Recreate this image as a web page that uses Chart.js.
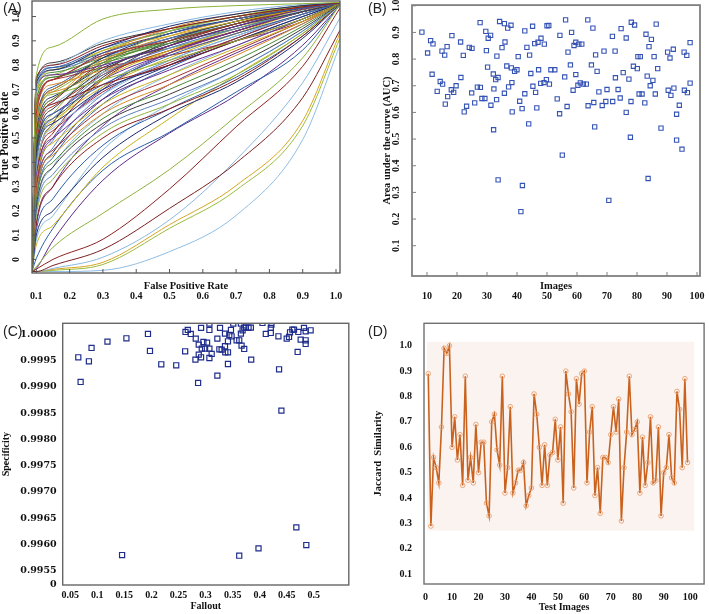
<!DOCTYPE html>
<html><head><meta charset="utf-8">
<script src="https://cdn.jsdelivr.net/npm/chart.js@4.4.1/dist/chart.umd.min.js"></script>
<style>
html,body{margin:0;padding:0;background:#fff;}
body{width:709px;height:614px;position:relative;overflow:hidden;}
canvas{position:absolute;}
.lbl{position:absolute;font-family:'Liberation Sans',Arial,sans-serif;font-size:14px;line-height:14px;color:#222;z-index:2;}
</style></head><body>
<canvas id="cA" width="350" height="305" style="left:0;top:0;width:350px;height:305px"></canvas>
<canvas id="cB" width="328" height="305" style="left:381px;top:0;width:328px;height:305px"></canvas>
<canvas id="cC" width="354" height="314" style="left:0;top:300px;width:354px;height:314px"></canvas>
<canvas id="cD" width="337" height="314" style="left:372px;top:300px;width:337px;height:314px"></canvas>
<div class="lbl" style="left:3px;top:1px">(A)</div>
<div class="lbl" style="left:368px;top:1px">(B)</div>
<div class="lbl" style="left:3px;top:324px">(C)</div>
<div class="lbl" style="left:368px;top:324px">(D)</div>
<script>
// ---------- Panel A: ROC curves (TPR sampled at shared FPR positions) ----------
const rocFpr = [0.087, 0.1, 0.15, 0.3, 0.5, 0.7, 0.9, 1.012];
const rocMain = [
  [-0.05, 0.76, 0.875, 0.99, 1.03, 1.045, 1.053, 1.058],
  [-0.05, 0.75, 0.80, 0.88, 0.95, 1.00, 1.04, 1.056],
  [-0.05, 0.74, 0.79, 0.85, 0.93, 0.99, 1.035, 1.055],
  [-0.05, 0.73, 0.78, 0.87, 0.96, 1.01, 1.045, 1.056],
  [-0.05, 0.70, 0.80, 0.90, 0.97, 1.02, 1.05, 1.056],
  [-0.05, 0.72, 0.76, 0.80, 0.88, 0.96, 1.03, 1.055],
  [-0.05, 0.68, 0.78, 0.86, 0.92, 0.98, 1.03, 1.055],
  [-0.05, 0.60, 0.74, 0.84, 0.90, 0.97, 1.03, 1.055],
  [-0.05, 0.55, 0.70, 0.82, 0.92, 0.99, 1.04, 1.055],
  [-0.05, 0.50, 0.66, 0.80, 0.90, 0.97, 1.03, 1.055],
  [-0.05, 0.45, 0.62, 0.78, 0.88, 0.96, 1.02, 1.055],
  [-0.05, 0.40, 0.58, 0.76, 0.87, 0.95, 1.02, 1.055],
  [-0.05, 0.58, 0.68, 0.74, 0.82, 0.90, 0.99, 1.054],
  [-0.05, 0.52, 0.64, 0.72, 0.80, 0.90, 0.99, 1.054],
  [-0.05, 0.46, 0.60, 0.72, 0.84, 0.93, 1.01, 1.055],
  [-0.05, 0.42, 0.56, 0.70, 0.80, 0.90, 1.00, 1.054],
  [-0.05, 0.38, 0.54, 0.68, 0.82, 0.92, 1.01, 1.055],
  [-0.05, 0.35, 0.50, 0.66, 0.78, 0.88, 0.99, 1.054],
  [-0.05, 0.33, 0.48, 0.64, 0.76, 0.87, 0.98, 1.054],
  [-0.05, 0.30, 0.45, 0.62, 0.74, 0.86, 0.98, 1.054],
  [-0.05, 0.28, 0.43, 0.60, 0.72, 0.84, 0.97, 1.054],
  [-0.05, 0.25, 0.40, 0.58, 0.70, 0.82, 0.96, 1.054],
  [-0.05, 0.22, 0.38, 0.56, 0.68, 0.80, 0.95, 1.053],
  [-0.05, 0.20, 0.35, 0.54, 0.66, 0.78, 0.94, 1.053],
  [-0.05, 0.18, 0.33, 0.52, 0.64, 0.76, 0.93, 1.052],
  [-0.05, 0.15, 0.30, 0.50, 0.62, 0.74, 0.92, 1.052],
  [-0.05, 0.12, 0.25, 0.47, 0.62, 0.75, 0.92, 1.052],
  [-0.05, 0.10, 0.20, 0.42, 0.60, 0.73, 0.91, 1.051],
  [-0.05, 0.08, 0.18, 0.45, 0.64, 0.78, 0.94, 1.053],
  [-0.05, 0.30, 0.50, 0.70, 0.85, 0.94, 1.02, 1.055],
  [-0.05, 0.36, 0.55, 0.74, 0.86, 0.95, 1.03, 1.055],
  [-0.05, 0.48, 0.63, 0.76, 0.86, 0.94, 1.02, 1.055],
  [-0.05, 0.62, 0.72, 0.78, 0.85, 0.93, 1.01, 1.055],
  [-0.05, 0.66, 0.75, 0.82, 0.89, 0.95, 1.02, 1.055],
  [-0.05, 0.44, 0.58, 0.75, 0.90, 0.98, 1.04, 1.056],
  [-0.05, 0.27, 0.46, 0.68, 0.82, 0.92, 1.01, 1.055],
  [-0.05, 0.40, 0.60, 0.80, 0.94, 1.00, 1.045, 1.056],
  [-0.05, 0.32, 0.52, 0.74, 0.88, 0.97, 1.035, 1.056],
  [-0.05, 0.24, 0.42, 0.64, 0.79, 0.90, 1.00, 1.055],
  [-0.05, 0.56, 0.70, 0.83, 0.93, 0.99, 1.04, 1.056],
  [-0.05, 0.20, 0.38, 0.60, 0.76, 0.88, 0.99, 1.054],
  [-0.05, 0.14, 0.30, 0.55, 0.72, 0.85, 0.97, 1.054],
  [-0.05, 0.06, 0.14, 0.38, 0.58, 0.76, 0.93, 1.052],
  [-0.05, 0.64, 0.74, 0.79, 0.84, 0.90, 0.98, 1.054],
  [-0.05, 0.50, 0.66, 0.84, 0.95, 1.01, 1.045, 1.056],
  [-0.05, 0.70, 0.77, 0.83, 0.90, 0.97, 1.03, 1.055],
  [-0.05, 0.74, 0.81, 0.89, 0.95, 1.00, 1.04, 1.056],
  [-0.05, 0.71, 0.78, 0.84, 0.91, 0.97, 1.03, 1.055],
  [-0.05, 0.66, 0.76, 0.86, 0.94, 1.00, 1.045, 1.056],
  [-0.05, 0.62, 0.74, 0.85, 0.93, 0.99, 1.04, 1.056],
  [-0.05, 0.57, 0.71, 0.83, 0.91, 0.98, 1.035, 1.055],
  [-0.05, 0.53, 0.67, 0.79, 0.88, 0.96, 1.03, 1.055],
  [-0.05, 0.49, 0.64, 0.77, 0.87, 0.95, 1.025, 1.055],
  [-0.05, 0.45, 0.60, 0.74, 0.85, 0.94, 1.02, 1.055],
  [-0.05, 0.41, 0.57, 0.71, 0.83, 0.93, 1.02, 1.055],
  [-0.05, 0.37, 0.53, 0.69, 0.81, 0.91, 1.01, 1.054],
  [-0.05, 0.60, 0.69, 0.77, 0.86, 0.94, 1.02, 1.055],
  [-0.05, 0.69, 0.75, 0.81, 0.87, 0.94, 1.02, 1.055],
  [-0.05, 0.34, 0.56, 0.77, 0.89, 0.97, 1.035, 1.056],
  [-0.05, 0.29, 0.49, 0.71, 0.85, 0.94, 1.02, 1.055],
  [-0.05, 0.54, 0.69, 0.81, 0.90, 0.97, 1.03, 1.055],
  [-0.05, 0.47, 0.65, 0.81, 0.91, 0.98, 1.035, 1.056],
  [-0.05, 0.72, 0.79, 0.87, 0.94, 0.99, 1.04, 1.056],
  [-0.05, 0.26, 0.44, 0.66, 0.80, 0.91, 1.01, 1.055]
];
const rocLow = [
  [-0.05, -0.03, 0.05, 0.19, 0.37, 0.59, 0.83, 1.05],
  [-0.05, -0.04, 0.0, 0.083, 0.29, 0.546, 0.795, 1.035],
  [-0.05, -0.05, -0.025, 0.041, 0.21, 0.397, 0.666, 0.944],
  [-0.05, -0.05, -0.037, 0.009, 0.163, 0.41, 0.728, 0.994],
  [-0.05, -0.05, -0.041, -0.012, 0.143, 0.304, 0.571, 0.932],
  [-0.05, -0.05, -0.045, -0.021, 0.128, 0.285, 0.55, 0.911],
  [-0.05, -0.05, -0.05, -0.045, 0.032, 0.181, 0.493, 0.882],
  [-0.05, 0.004, 0.128, 0.367, 0.524, 0.689, 0.862, 1.047],
  [-0.05, -0.037, 0.078, 0.326, 0.52, 0.676, 0.882, 1.047]
];
const rocXTicks = [0.1, 0.2, 0.3, 0.4, 0.5, 0.6, 0.7, 0.8, 0.9, 1.0];
const rocXTickLabels = ['0.1','0.2','0.3','0.4','0.5','0.6','0.7','0.8','0.9','1.0'];
const rocYTicks = [0, 0.1, 0.2, 0.3, 0.4, 0.5, 0.6, 0.7, 0.8, 0.9, 1.0];
const rocYTickLabels = ['0','0.1','0.2','0.3','0.4','0.5','0.6','0.7','0.8','0.9','1.0'];

// ---------- Panel B: AUC per image ----------
const bImage = [
  8.3,10.2,11.2,12.0,11.7,13.4,14.4,15.2,15.0,15.9,
  16.1,16.7,16.9,18.1,18.3,18.9,19.7,21.2,21.3,22.1,
  22.4,23.2,24.1,25.0,24.9,25.9,26.8,27.7,27.8,28.3,
  29.3,29.6,29.8,30.2,30.4,31.2,31.3,32.1,32.3,32.2,
  32.9,33.2,33.3,33.7,33.7,34.2,35.0,35.8,35.8,36.0,
  36.6,36.9,37.2,38.0,38.1,38.3,38.4,39.2,40.0,40.4,
  40.9,41.7,41.8,41.3,42.6,42.6,43.3,43.9,44.2,44.6,
  45.2,45.3,45.9,46.2,46.6,47.0,47.2,47.9,48.0,49.0,
  49.1,49.8,50.0,50.6,50.8,51.3,52.6,53.4,54.2,54.3,
  55.1,55.9,56.2,56.7,57.0,57.8,58.2,58.7,59.0,59.6,
  59.6,60.3,60.6,61.1,61.6,62.1,63.1,63.7,63.6,64.8,
  65.3,65.6,65.9,66.2,66.7,67.3,68.4,69.0,69.6,70.0,
  70.6,71.9,71.8,72.7,72.8,73.7,74.4,74.7,75.4,76.4,
  76.4,77.3,77.8,78.0,78.1,78.8,79.2,80.1,80.3,80.7,
  81.1,81.7,82.6,83.0,83.4,83.7,84.0,84.4,84.8,85.3,
  85.7,86.1,86.4,86.9,88.0,90.2,90.4,91.0,91.3,92.1,
  92.3,93.2,93.2,94.1,95.0,95.7,95.8,96.6,96.8,97.7,
  97.7
];
const bAuc = [
  0.901,0.823,0.869,0.857,0.743,0.679,0.716,0.706,0.830,0.815,
  0.631,0.847,0.659,0.685,0.888,0.675,0.700,0.864,0.731,0.814,
  0.602,0.623,0.844,0.840,0.673,0.636,0.695,0.937,0.694,0.652,
  0.652,0.904,0.832,0.770,0.878,0.889,0.627,0.744,0.688,0.535,
  0.723,0.648,0.811,0.731,0.347,0.941,0.843,0.933,0.672,0.864,
  0.774,0.916,0.696,0.927,0.767,0.712,0.602,0.754,0.760,0.809,
  0.642,0.614,0.326,0.228,0.906,0.670,0.844,0.557,0.815,0.746,
  0.923,0.698,0.858,0.675,0.617,0.863,0.760,0.709,0.878,0.712,
  0.856,0.723,0.925,0.926,0.706,0.760,0.760,0.651,0.595,0.889,
  0.440,0.733,0.947,0.622,0.826,0.778,0.900,0.683,0.851,0.742,
  0.863,0.702,0.856,0.711,0.856,0.706,0.706,0.625,0.947,0.778,
  0.916,0.637,0.546,0.816,0.754,0.677,0.626,0.830,0.641,0.686,
  0.270,0.641,0.885,0.830,0.730,0.686,0.654,0.914,0.749,0.879,
  0.600,0.725,0.507,0.641,0.938,0.773,0.928,0.764,0.809,0.669,
  0.809,0.669,0.636,0.893,0.736,0.352,0.847,0.700,0.874,0.720,
  0.809,0.669,0.931,0.764,0.541,0.826,0.683,0.804,0.664,0.837,
  0.691,0.593,0.496,0.627,0.462,0.826,0.683,0.814,0.674,0.862,
  0.710
];
const bXTicks = [10, 20, 30, 40, 50, 60, 70, 80, 90, 100];
const bXTickLabels = ['10','20','30','40','50','60','70','80','90','100'];
const bYTicks = [0.1, 0.2, 0.3, 0.4, 0.5, 0.6, 0.7, 0.8, 0.9, 1.0];
const bYTickLabels = ['0.1','0.2','0.3','0.4','0.5','0.6','0.7','0.8','0.9','1.0'];

// ---------- Panel C: Specificity vs Fallout ----------
const cFallout = [
  0.0649,0.0692,0.0845,0.0894,0.1188,0.1538,0.1458,0.1936,0.1973,0.2182,
  0.2458,0.2623,0.2629,0.2672,0.2727,0.2819,0.2813,0.2874,0.2874,0.2862,
  0.2917,0.2930,0.2917,0.2960,0.2991,0.3028,0.3071,0.3071,0.3071,0.3113,
  0.3071,0.3218,0.3218,0.3267,0.3255,0.3297,0.3359,0.3359,0.3365,0.3414,
  0.3414,0.3414,0.3438,0.3469,0.3481,0.3512,0.3622,0.3573,0.3622,0.3653,
  0.3665,0.3684,0.3714,0.3714,0.3745,0.3794,0.3837,0.3843,0.3653,0.3978,
  0.4051,0.4113,0.4205,0.4205,0.4217,0.4346,0.4358,0.4401,0.4499,0.4542,
  0.4560,0.4603,0.4634,0.4677,0.4714,0.4701,0.4757,0.4818,0.4849,0.4849,
  0.4849,0.4861,0.4941
];
const cSpecificity = [
  0.999562,0.999093,0.999486,0.999740,0.999860,0.999924,0.995800,1.000006,0.999683,0.999429,
  0.999410,0.999676,1.000044,1.000082,1.000006,0.999918,0.999518,0.999803,0.999613,0.999074,
  1.000121,0.999727,0.999562,0.999854,0.999727,0.999841,1.000082,0.999727,0.999549,0.999626,
  1.000203,0.999213,0.999918,1.000121,0.999714,0.999708,1.000013,0.999772,0.999657,0.999657,
  0.999435,0.999867,0.999987,1.000082,0.999962,1.000203,0.995787,0.999886,0.999886,1.000013,
  0.999784,1.000076,0.999721,1.000127,1.000127,1.000127,1.000127,0.999518,1.000203,0.995927,
  1.000216,1.000006,1.000121,1.000025,1.000184,0.999962,0.999334,0.998547,0.999918,0.999949,
  1.000038,1.000089,1.000089,0.996326,1.000044,0.999664,0.999898,1.000121,1.000057,0.999886,
  0.999816,0.995990,1.000076
];
const cXTicks = [0.05, 0.1, 0.15, 0.2, 0.25, 0.3, 0.35, 0.4, 0.45, 0.5];
const cXTickLabels = ['0.05','0.1','0.15','0.2','0.25','0.3','0.35','0.4','0.45','0.5'];
const cYTicks = [0.99523, 0.9955, 0.9960, 0.9965, 0.9970, 0.9975, 0.9980, 0.9985, 0.9990, 0.9995, 1.0000];
const cYTickLabels = ['0','0.9955','0.9960','0.9965','0.9970','0.9975','0.9980','0.9985','0.9990','0.9995','1.0000'];

// ---------- Panel D: Jaccard similarity per test image ----------
const dJaccard = [
  0.89,0.29,0.56,0.52,0.46,0.68,0.99,0.97,1.00,0.60,
  0.72,0.55,0.65,0.45,0.88,0.47,0.56,0.46,0.69,0.50,
  0.62,0.62,0.38,0.33,0.70,0.73,0.59,0.53,0.88,0.42,
  0.52,0.76,0.42,0.46,0.51,0.51,0.54,0.37,0.41,0.44,
  0.81,0.73,0.60,0.45,0.61,0.45,0.57,0.58,0.71,0.55,
  0.68,0.38,0.90,0.81,0.74,0.44,0.87,0.77,0.89,0.90,
  0.46,0.66,0.76,0.41,0.52,0.34,0.56,0.56,0.54,0.65,
  0.76,0.66,0.79,0.31,0.52,0.66,0.88,0.65,0.67,0.70,
  0.42,0.64,0.45,0.54,0.72,0.46,0.47,0.68,0.33,0.50,
  0.52,0.65,0.48,0.46,0.82,0.75,0.52,0.87,0.54
];
const dXTicks = [0, 10, 20, 30, 40, 50, 60, 70, 80, 90, 100];
const dXTickLabels = ['0','10','20','30','40','50','60','70','80','90','100'];
const dYTicks = [0.1, 0.2, 0.3, 0.4, 0.5, 0.6, 0.7, 0.8, 0.9, 1.0];
const dYTickLabels = ['0.1','0.2','0.3','0.4','0.5','0.6','0.7','0.8','0.9','1.0'];
const dShadeX = [0.6, 101.5];
const dShadeY = [0.272, 1.015];

// ---------- styling helpers ----------
const serif = "'Liberation Serif','Times New Roman',serif";
const tickFont = {family: serif, size: 10, weight: 'bold'};
const wideTickFont = {family: "'DejaVu Serif',serif", size: 9.5, weight: 'bold'};
const fixedTicks = (values) => (scale) => { scale.ticks = values.map(v => ({value: v})); };
const labelsFrom = (arr) => (value, index) => arr[index];
const titleFont = (s) => ({family: serif, size: s, weight: 'bold'});
const fitY = (w) => (s) => { s.width = w; s.paddingTop = 0; s.paddingBottom = 0; };
const fitX = (h) => (s) => { s.height = h; s.paddingLeft = 0; s.paddingRight = 0; };

const framePlugin = {
  id: 'frame',
  beforeDatasetsDraw(chart, args, opts) {
    if (!opts || !opts.shade) return;
    const {ctx} = chart, xs = chart.scales.x, ys = chart.scales.y, sh = opts.shade;
    const l = xs.getPixelForValue(sh.x[0]), r = xs.getPixelForValue(sh.x[1]);
    const t = ys.getPixelForValue(sh.y[1]), b = ys.getPixelForValue(sh.y[0]);
    ctx.save(); ctx.fillStyle = sh.color; ctx.fillRect(l, t, r - l, b - t); ctx.restore();
  },
  afterDraw(chart, args, opts) {
    if (!opts) return;
    const {ctx, chartArea: a} = chart;
    ctx.save();
    ctx.strokeStyle = opts.color; ctx.lineWidth = opts.width;
    ctx.strokeRect(a.left, a.top, a.right - a.left, a.bottom - a.top);
    ctx.lineWidth = 1;
    (opts.inTicks || []).forEach(id => {
      const s = chart.scales[id];
      s.ticks.forEach((t, i) => {
        const p = s.getPixelForTick(i);
        ctx.beginPath();
        if (s.isHorizontal()) { ctx.moveTo(p, a.bottom); ctx.lineTo(p, a.bottom - 4); }
        else { ctx.moveTo(a.left, p); ctx.lineTo(a.left + 4, p); }
        ctx.stroke();
      });
    });
    ctx.restore();
  }
};

const base = () => ({
  responsive: false, animation: false, devicePixelRatio: 1, events: [],
  plugins: {legend: {display: false}, tooltip: {enabled: false}}
});
const noGrid = {display: false, drawTicks: false};

// ---------- Chart A ----------
const rocColors = ['#8db33a','#8b1a1a','#2f5ea8','#1e2a6e','#86b8e0','#6a2c91','#c9b318','#a23030','#d58a24','#4a8a3a','#3b3b3b','#5a7fc0'];
const rocLowColors = ['#8fb23c','#8b2020','#7a1f1f','#8ab8e0','#d9a520','#9bbb3a','#8fbde3','#2b5ea8','#5e2a8c'];
const dsA = [];
rocMain.forEach((c, i) => dsA.push({xAxisID: 'x', yAxisID: 'y', data: rocFpr.map((x, j) => ({x, y: c[j]})), borderColor: rocColors[i % rocColors.length]}));
rocLow.forEach((c, i) => dsA.push({xAxisID: 'x', yAxisID: 'y', data: rocFpr.map((x, j) => ({x, y: c[j]})), borderColor: rocLowColors[i]}));
const optA = base();
optA.layout = {padding: {left: 0, top: 1, right: 10, bottom: 0}};
optA.elements = {point: {radius: 0}, line: {borderWidth: 1, cubicInterpolationMode: 'monotone', fill: false}};
optA.plugins.frame = {color: '#555', width: 1.3, inTicks: ['x2', 'y']};
optA.scales = {
  x: {type: 'linear', position: 'bottom', weight: 0, min: 0.087, max: 1.012, grid: noGrid, border: {display: false},
      ticks: {display: false},
      title: {display: true, text: 'False Positive Rate', font: titleFont(10.5), color: '#111', padding: {top: 0, bottom: -2.3}},
      afterFit: fitX(17)},
  x2: {type: 'linear', position: 'bottom', weight: 1, min: 0.087, max: 1.012, grid: noGrid, border: {display: false},
      afterBuildTicks: fixedTicks(rocXTicks),
      ticks: {autoSkip: false, maxRotation: 0, padding: 0, font: tickFont, color: '#111', callback: labelsFrom(rocXTickLabels)},
      afterFit: fitX(15)},
  y: {type: 'linear', position: 'left', min: -0.056, max: 1.064, grid: noGrid, border: {display: false},
      afterBuildTicks: fixedTicks(rocYTicks),
      ticks: {autoSkip: false, minRotation: 90, maxRotation: 90, crossAlign: 'center', padding: 9, font: tickFont, color: '#111', callback: labelsFrom(rocYTickLabels)},
      title: {display: true, text: 'True Positive Rate', font: titleFont(11.5), color: '#111', padding: {top: -1.4, bottom: 0}},
      afterFit: fitY(32)}
};
new Chart(document.getElementById('cA'), {type: 'line', data: {datasets: dsA}, options: optA, plugins: [framePlugin]});

// ---------- Chart B ----------
const optB = base();
optB.layout = {padding: {left: 0, top: 2, right: 9, bottom: 0}};
optB.plugins.frame = {color: '#808080', width: 1.8, inTicks: ['x2', 'y']};
optB.scales = {
  x: {type: 'linear', position: 'bottom', weight: 0, min: 5, max: 101, grid: noGrid, border: {display: false},
      ticks: {display: false},
      title: {display: true, text: 'Images', font: titleFont(10.5), color: '#111', padding: {top: 0, bottom: -2.3}},
      afterFit: fitX(14)},
  x2: {type: 'linear', position: 'bottom', weight: 1, min: 5, max: 101, grid: noGrid, border: {display: false},
      afterBuildTicks: fixedTicks(bXTicks),
      ticks: {autoSkip: false, maxRotation: 0, padding: 0, font: tickFont, color: '#111', callback: labelsFrom(bXTickLabels)},
      afterFit: fitX(15)},
  y: {type: 'linear', position: 'left', min: -0.0136, max: 1.0025, grid: noGrid, border: {display: false},
      afterBuildTicks: fixedTicks(bYTicks),
      ticks: {autoSkip: false, minRotation: 90, maxRotation: 90, crossAlign: 'center', padding: 9.5, font: tickFont, color: '#111', callback: labelsFrom(bYTickLabels)},
      title: {display: true, text: 'Area under the curve (AUC)', font: titleFont(10.5), color: '#111', padding: {top: 0, bottom: 0}},
      afterFit: fitY(31)}
};
new Chart(document.getElementById('cB'), {type: 'scatter', data: {datasets: [{
  xAxisID: 'x', yAxisID: 'y',
  data: bImage.map((x, i) => ({x, y: bAuc[i]})),
  pointStyle: 'rect', pointRadius: 3, pointBorderWidth: 1.1,
  pointBorderColor: '#3553b5', pointBackgroundColor: 'rgba(255,255,255,0)'
}]}, options: optB, plugins: [framePlugin]});

// ---------- Chart C ----------
const optC = base();
optC.layout = {padding: {left: 0, top: 23.3, right: 4, bottom: 0}};
optC.plugins.frame = {color: '#666', width: 1.4, inTicks: []};
optC.scales = {
  x: {type: 'linear', position: 'bottom', min: 0.0361, max: 0.5646, grid: noGrid, border: {display: false},
      afterBuildTicks: fixedTicks(cXTicks),
      ticks: {autoSkip: false, maxRotation: 0, padding: 4.5, font: tickFont, color: '#111', callback: labelsFrom(cXTickLabels)},
      title: {display: true, text: 'Fallout', font: titleFont(10), color: '#111', padding: {top: 0, bottom: 2}},
      afterFit: fitX(29)},
  y: {type: 'linear', position: 'left', min: 0.99523, max: 1.000209, grid: noGrid, border: {display: false},
      afterBuildTicks: fixedTicks(cYTicks),
      ticks: {autoSkip: false, padding: 6, font: wideTickFont, color: '#111', callback: labelsFrom(cYTickLabels)},
      title: {display: true, text: 'Specificity', font: titleFont(10), color: '#111', padding: {top: 0, bottom: 0}},
      afterFit: fitY(62.7)}
};
new Chart(document.getElementById('cC'), {type: 'scatter', data: {datasets: [{
  data: cFallout.map((x, i) => ({x, y: cSpecificity[i]})),
  clip: 0,
  pointStyle: 'rect', pointRadius: 3.6, pointBorderWidth: 1.2,
  pointBorderColor: '#1f2d8c', pointBackgroundColor: 'rgba(255,255,255,0)'
}]}, options: optC, plugins: [framePlugin]});

// ---------- Chart D ----------
const optD = base();
optD.layout = {padding: {left: 0, top: 23.3, right: 2.3, bottom: 0}};
optD.plugins.frame = {color: '#707070', width: 1.4, inTicks: [], shade: {x: dShadeX, y: dShadeY, color: '#fbf3ef'}};
optD.scales = {
  x: {type: 'linear', position: 'bottom', min: -0.61, max: 105.27, grid: noGrid, border: {display: false},
      afterBuildTicks: fixedTicks(dXTicks),
      ticks: {autoSkip: false, maxRotation: 0, padding: 7, font: tickFont, color: '#111', callback: labelsFrom(dXTickLabels)},
      title: {display: true, text: 'Test Images', font: titleFont(10), color: '#111', padding: {top: 0, bottom: 1}},
      afterFit: fitX(30)},
  y: {type: 'linear', position: 'left', min: 0.0618, max: 1.0882, grid: noGrid, border: {display: false},
      afterBuildTicks: fixedTicks(dYTicks),
      ticks: {autoSkip: false, padding: 12, font: tickFont, color: '#111', callback: labelsFrom(dYTickLabels)},
      title: {display: true, text: 'Jaccard  Similarity', font: titleFont(10.5), color: '#111', padding: {top: 0, bottom: 0}},
      afterFit: fitY(52)}
};
new Chart(document.getElementById('cD'), {type: 'line', data: {datasets: [{
  data: dJaccard.map((y, i) => ({x: i + 1, y})),
  borderColor: '#c8621e', borderWidth: 1.6, tension: 0, fill: false,
  pointRadius: 2.3, pointBorderWidth: 0.9,
  pointBorderColor: '#eaa070', pointBackgroundColor: 'rgba(0,0,0,0)'
}]}, options: optD, plugins: [framePlugin]});
</script>
</body></html>
